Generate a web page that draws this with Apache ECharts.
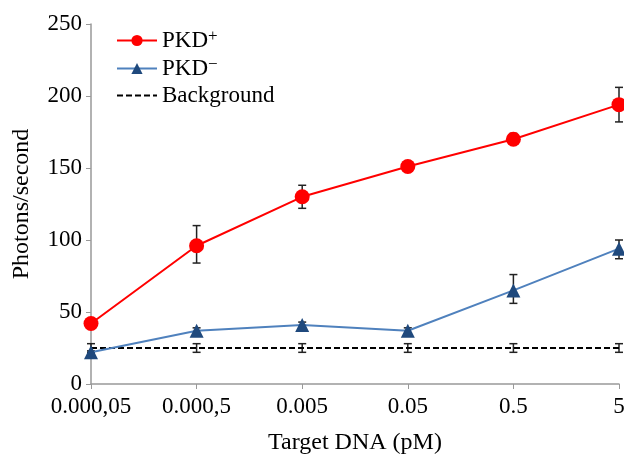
<!DOCTYPE html>
<html>
<head>
<meta charset="utf-8">
<title>Photons/second vs Target DNA</title>
<script src="https://cdn.jsdelivr.net/npm/echarts@6/dist/echarts.min.js"></script>
<style>
  html, body { margin: 0; padding: 0; background: #fff; }
  #chart { width: 624px; height: 454px; }
</style>
</head>
<body>
<div id="chart"></div>
<script>
// x categories (target DNA, pM)
const categories = ['0.000,05', '0.000,5', '0.005', '0.05', '0.5', '5']

// PKD+ mean and error range
const pkdPlus = [42, 96, 130, 151, 170, 194]
const pkdPlusLow = [41, 84, 122, 149, 167, 182]
const pkdPlusHigh = [43, 110, 138, 153, 174, 206]

// PKD- mean and error range
const pkdMinus = [22, 37, 41, 37, 65, 94]
const pkdMinusLow = [21, 35, 39, 35, 56, 87]
const pkdMinusHigh = [23, 39, 43, 39, 76, 100]

// Background
const background = [25, 25, 25, 25, 25, 25]
const backgroundLow = [22, 22, 22, 22, 22, 22]
const backgroundHigh = [28, 28, 28, 28, 28, 28]

const FONT = '"Liberation Serif", "Times New Roman", serif'

// build [index, low, high] rows for error bars
function errRows(low, high) {
  return low.map((v, i) => [i, v, high[i]])
}

// error bar drawn through the axes
function renderErr(params, api) {
  const x = api.value(0)
  const lo = api.coord([x, api.value(1)])
  const hi = api.coord([x, api.value(2)])
  const half = 4
  const style = { stroke: '#222', lineWidth: 1.5 }
  return {
    type: 'group',
    children: [
      { type: 'line', shape: { x1: lo[0], y1: lo[1], x2: hi[0], y2: hi[1] }, style },
      { type: 'line', shape: { x1: hi[0] - half, y1: hi[1], x2: hi[0] + half, y2: hi[1] }, style },
      { type: 'line', shape: { x1: lo[0] - half, y1: lo[1], x2: lo[0] + half, y2: lo[1] }, style }
    ]
  }
}

function errSeries(low, high) {
  return {
    type: 'custom',
    renderItem: renderErr,
    data: errRows(low, high),
    z: 1,
    silent: true,
    encode: { x: 0, y: [1, 2] }
  }
}

const chart = echarts.init(document.getElementById('chart'))
chart.setOption({
  animation: false,
  textStyle: { fontFamily: FONT },
  grid: { left: 91, right: 5, top: 24, bottom: 70, outerBoundsMode: 'none' },
  legend: {
    data: [
      'PKD+',
      'PKD-',
      { name: 'Background', itemStyle: { opacity: 0 } } // 只显示虚线
    ],
    orient: 'vertical',
    left: 111,
    top: 23,
    itemWidth: 40,
    itemHeight: 14,
    itemGap: 4,
    formatter: name => {
      if (name === 'PKD+') return 'PKD{sup|+}'
      if (name === 'PKD-') return 'PKD{sup|−}'
      return name
    },
    textStyle: {
      fontFamily: FONT,
      fontSize: 23,
      color: '#000',
      rich: {
        sup: { fontFamily: FONT, fontSize: 17, verticalAlign: 'top', color: '#000', padding: [0, 0, 8, 0] }
      }
    }
  },
  xAxis: {
    type: 'category',
    data: categories,
    boundaryGap: false,
    name: 'Target DNA (pM)',
    nameLocation: 'middle',
    nameGap: 47,
    nameTextStyle: { fontFamily: FONT, fontSize: 24, color: '#000' },
    axisLine: { lineStyle: { color: '#999', width: 1.5 } },
    axisTick: { alignWithLabel: true, length: 5, lineStyle: { color: '#999' } },
    axisLabel: { fontFamily: FONT, fontSize: 23, color: '#000', margin: 11, interval: 0 }
  },
  yAxis: {
    type: 'value',
    min: 0,
    max: 250,
    interval: 50,
    name: 'Photons/second',
    nameLocation: 'middle',
    nameGap: 57,
    nameTextStyle: { fontFamily: FONT, fontSize: 24, color: '#000' },
    axisLine: { show: true, lineStyle: { color: '#999', width: 1.5 } },
    axisTick: { show: true, length: 5, lineStyle: { color: '#999' } },
    axisLabel: { fontFamily: FONT, fontSize: 23, color: '#000', margin: 9 },
    splitLine: { show: false }
  },
  series: [
    {
      name: 'Background',
      type: 'line',
      data: background,
      symbol: 'none',
      lineStyle: { color: '#000', width: 2, type: [6, 3] },
      itemStyle: { color: '#000' },
      z: 2
    },
    errSeries(backgroundLow, backgroundHigh),
    {
      name: 'PKD-',
      type: 'line',
      data: pkdMinus,
      symbol: 'triangle',
      symbolSize: 14,
      lineStyle: { color: '#4f81bd', width: 2 },
      itemStyle: { color: '#1f497d' },
      z: 3
    },
    errSeries(pkdMinusLow, pkdMinusHigh),
    {
      name: 'PKD+',
      type: 'line',
      data: pkdPlus,
      symbol: 'circle',
      symbolSize: 15,
      lineStyle: { color: '#ff0000', width: 2 },
      itemStyle: { color: '#ff0000' },
      z: 4
    },
    errSeries(pkdPlusLow, pkdPlusHigh)
  ]
})
</script>
</body>
</html>
